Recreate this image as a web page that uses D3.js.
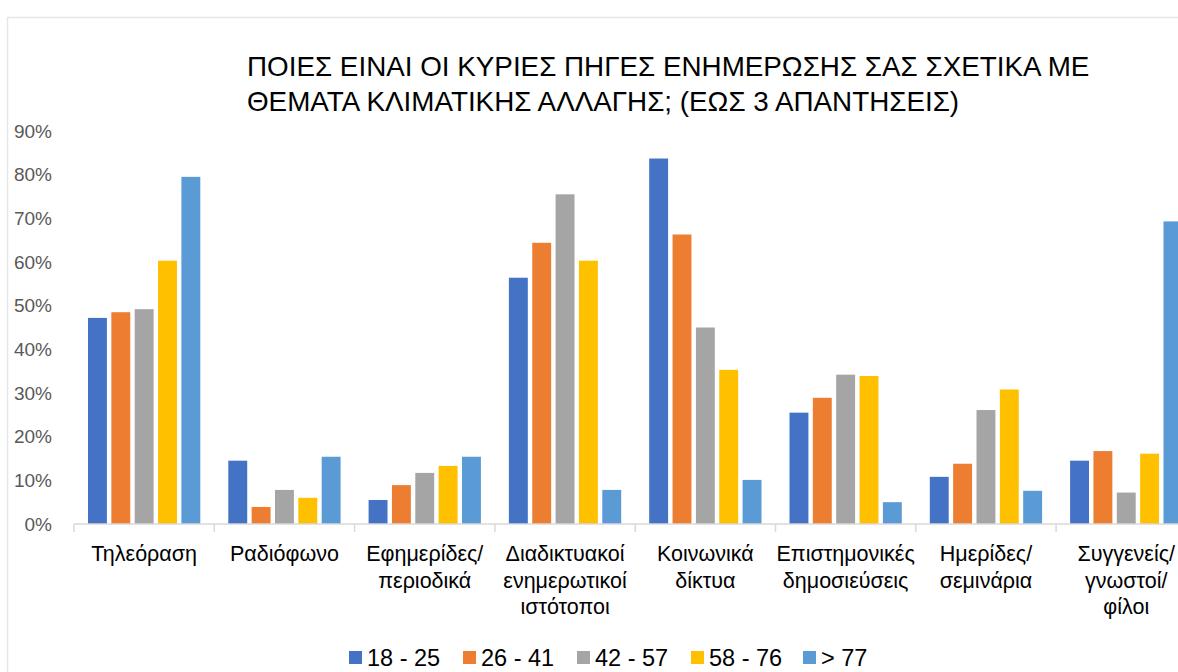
<!DOCTYPE html>
<html>
<head>
<meta charset="utf-8">
<script src="https://cdn.jsdelivr.net/npm/d3@7"></script>
<style>
  body { margin: 0; background: #fff; overflow: hidden; }
  svg { display: block; font-family: "Liberation Sans", Arial, sans-serif; }
</style>
</head>
<body>
<div id="chart"></div>
<script>
// data
var categories = [
  ["Τηλεόραση"],
  ["Ραδιόφωνο"],
  ["Εφημερίδες/", "περιοδικά"],
  ["Διαδικτυακοί", "ενημερωτικοί", "ιστότοποι"],
  ["Κοινωνικά", "δίκτυα"],
  ["Επιστημονικές", "δημοσιεύσεις"],
  ["Ημερίδες/", "σεμινάρια"],
  ["Συγγενείς/", "γνωστοί/", "φίλοι"]
];
var groups = ["18 - 25", "26 - 41", "42 - 57", "58 - 76", "> 77"];
var colors = ["#4472C4", "#ED7D31", "#A5A5A5", "#FFC000", "#5B9BD5"];
var age18 = [47.2, 14.5, 5.5, 56.4, 83.7, 25.5, 10.8, 14.5];
var age26 = [48.5, 3.9, 8.9, 64.4, 66.3, 28.9, 13.8, 16.7];
var age42 = [49.2, 7.8, 11.7, 75.5, 45.0, 34.2, 26.1, 7.2];
var age58 = [60.3, 6.0, 13.3, 60.3, 35.3, 33.9, 30.8, 16.1];
var age77 = [79.5, 15.4, 15.4, 7.8, 10.1, 5.0, 7.6, 69.3];
var yTicks = [0, 10, 20, 30, 40, 50, 60, 70, 80, 90];
var titleLines = [
  "ΠΟΙΕΣ ΕΙΝΑΙ ΟΙ ΚΥΡΙΕΣ ΠΗΓΕΣ ΕΝΗΜΕΡΩΣΗΣ ΣΑΣ ΣΧΕΤΙΚΑ ΜΕ",
  "ΘΕΜΑΤΑ ΚΛΙΜΑΤΙΚΗΣ ΑΛΛΑΓΗΣ; (ΕΩΣ 3 ΑΠΑΝΤΗΣΕΙΣ)"
];

var series = [age18, age26, age42, age58, age77];

var W = 1178, H = 672,
    plotLeft = 74, bandW = 140.3,
    plotTop = 131, plotBottom = 524;

var svg = d3.select("#chart").append("svg")
    .attr("width", W)
    .attr("height", H);

// chart frame
svg.append("rect")
   .attr("x", 7.5).attr("y", 17.5)
   .attr("width", W + 20).attr("height", H + 20)
   .attr("fill", "#fff")
   .attr("stroke", "#e6e6e6")
   .attr("stroke-width", 1.5);

var x = d3.scaleBand()
    .domain(d3.range(categories.length))
    .range([plotLeft, plotLeft + bandW * categories.length])
    .paddingInner(0).paddingOuter(0);

var xs = d3.scaleBand()
    .domain(d3.range(groups.length))
    .range([14, bandW - 14])
    .paddingInner(0.19);

var y = d3.scaleLinear()
    .domain([0, 90])
    .range([plotBottom, plotTop]);

// title
svg.append("text")
   .attr("font-size", 27.8)
   .attr("fill", "#000")
   .selectAll("tspan")
   .data(titleLines)
   .join("tspan")
   .attr("x", 247)
   .attr("y", function(d, i) { return 76 + i * 35; })
   .text(function(d) { return d; });

// y axis labels
var yAxis = svg.append("g")
    .attr("transform", "translate(52,0)")
    .call(d3.axisLeft(y).tickValues(yTicks).tickSize(0).tickPadding(0)
      .tickFormat(function(d) { return d + "%"; }));
yAxis.select(".domain").remove();
yAxis.selectAll("text")
     .attr("font-size", 19)
     .attr("font-family", "Liberation Sans, Arial, sans-serif")
     .attr("fill", "#595959");

// bars
var cat = svg.append("g").selectAll("g")
    .data(categories)
    .join("g")
    .attr("transform", function(d, i) { return "translate(" + x(i) + ",0)"; });

cat.selectAll("rect")
   .data(function(d, i) { return series.map(function(s, k) { return { k: k, v: s[i] }; }); })
   .join("rect")
   .attr("x", function(d) { return xs(d.k); })
   .attr("width", xs.bandwidth())
   .attr("y", function(d) { return y(d.v); })
   .attr("height", function(d) { return plotBottom - y(d.v); })
   .attr("fill", function(d) { return colors[d.k]; });

// category axis
var xAxis = svg.append("g")
    .attr("transform", "translate(0," + plotBottom + ")");
xAxis.append("line")
     .attr("x1", plotLeft).attr("x2", W + 20)
     .attr("stroke", "#d9d9d9").attr("stroke-width", 1.5);
xAxis.selectAll("line.tick")
     .data(d3.range(categories.length + 1))
     .join("line")
     .attr("class", "tick")
     .attr("x1", function(d) { return plotLeft + d * bandW; })
     .attr("x2", function(d) { return plotLeft + d * bandW; })
     .attr("y1", 0).attr("y2", 8)
     .attr("stroke", "#d9d9d9").attr("stroke-width", 1.5);

cat.append("text")
   .attr("text-anchor", "middle")
   .attr("font-size", 21.5)
   .attr("fill", "#000")
   .selectAll("tspan")
   .data(function(d) { return d; })
   .join("tspan")
   .attr("x", bandW / 2)
   .attr("y", function(d, i) { return 561 + i * 26.5; })
   .text(function(d) { return d; });

// legend
var legend = svg.append("g");
var lx = [349, 463, 577, 691, 803];
var item = legend.selectAll("g")
    .data(groups)
    .join("g")
    .attr("transform", function(d, i) { return "translate(" + lx[i] + ",651)"; });
item.append("rect")
    .attr("width", 13).attr("height", 13)
    .attr("fill", function(d, i) { return colors[i]; });
item.append("text")
    .attr("x", 18).attr("y", 15)
    .attr("font-size", 23.5)
    .attr("fill", "#000")
    .text(function(d) { return d; });
</script>
</body>
</html>
